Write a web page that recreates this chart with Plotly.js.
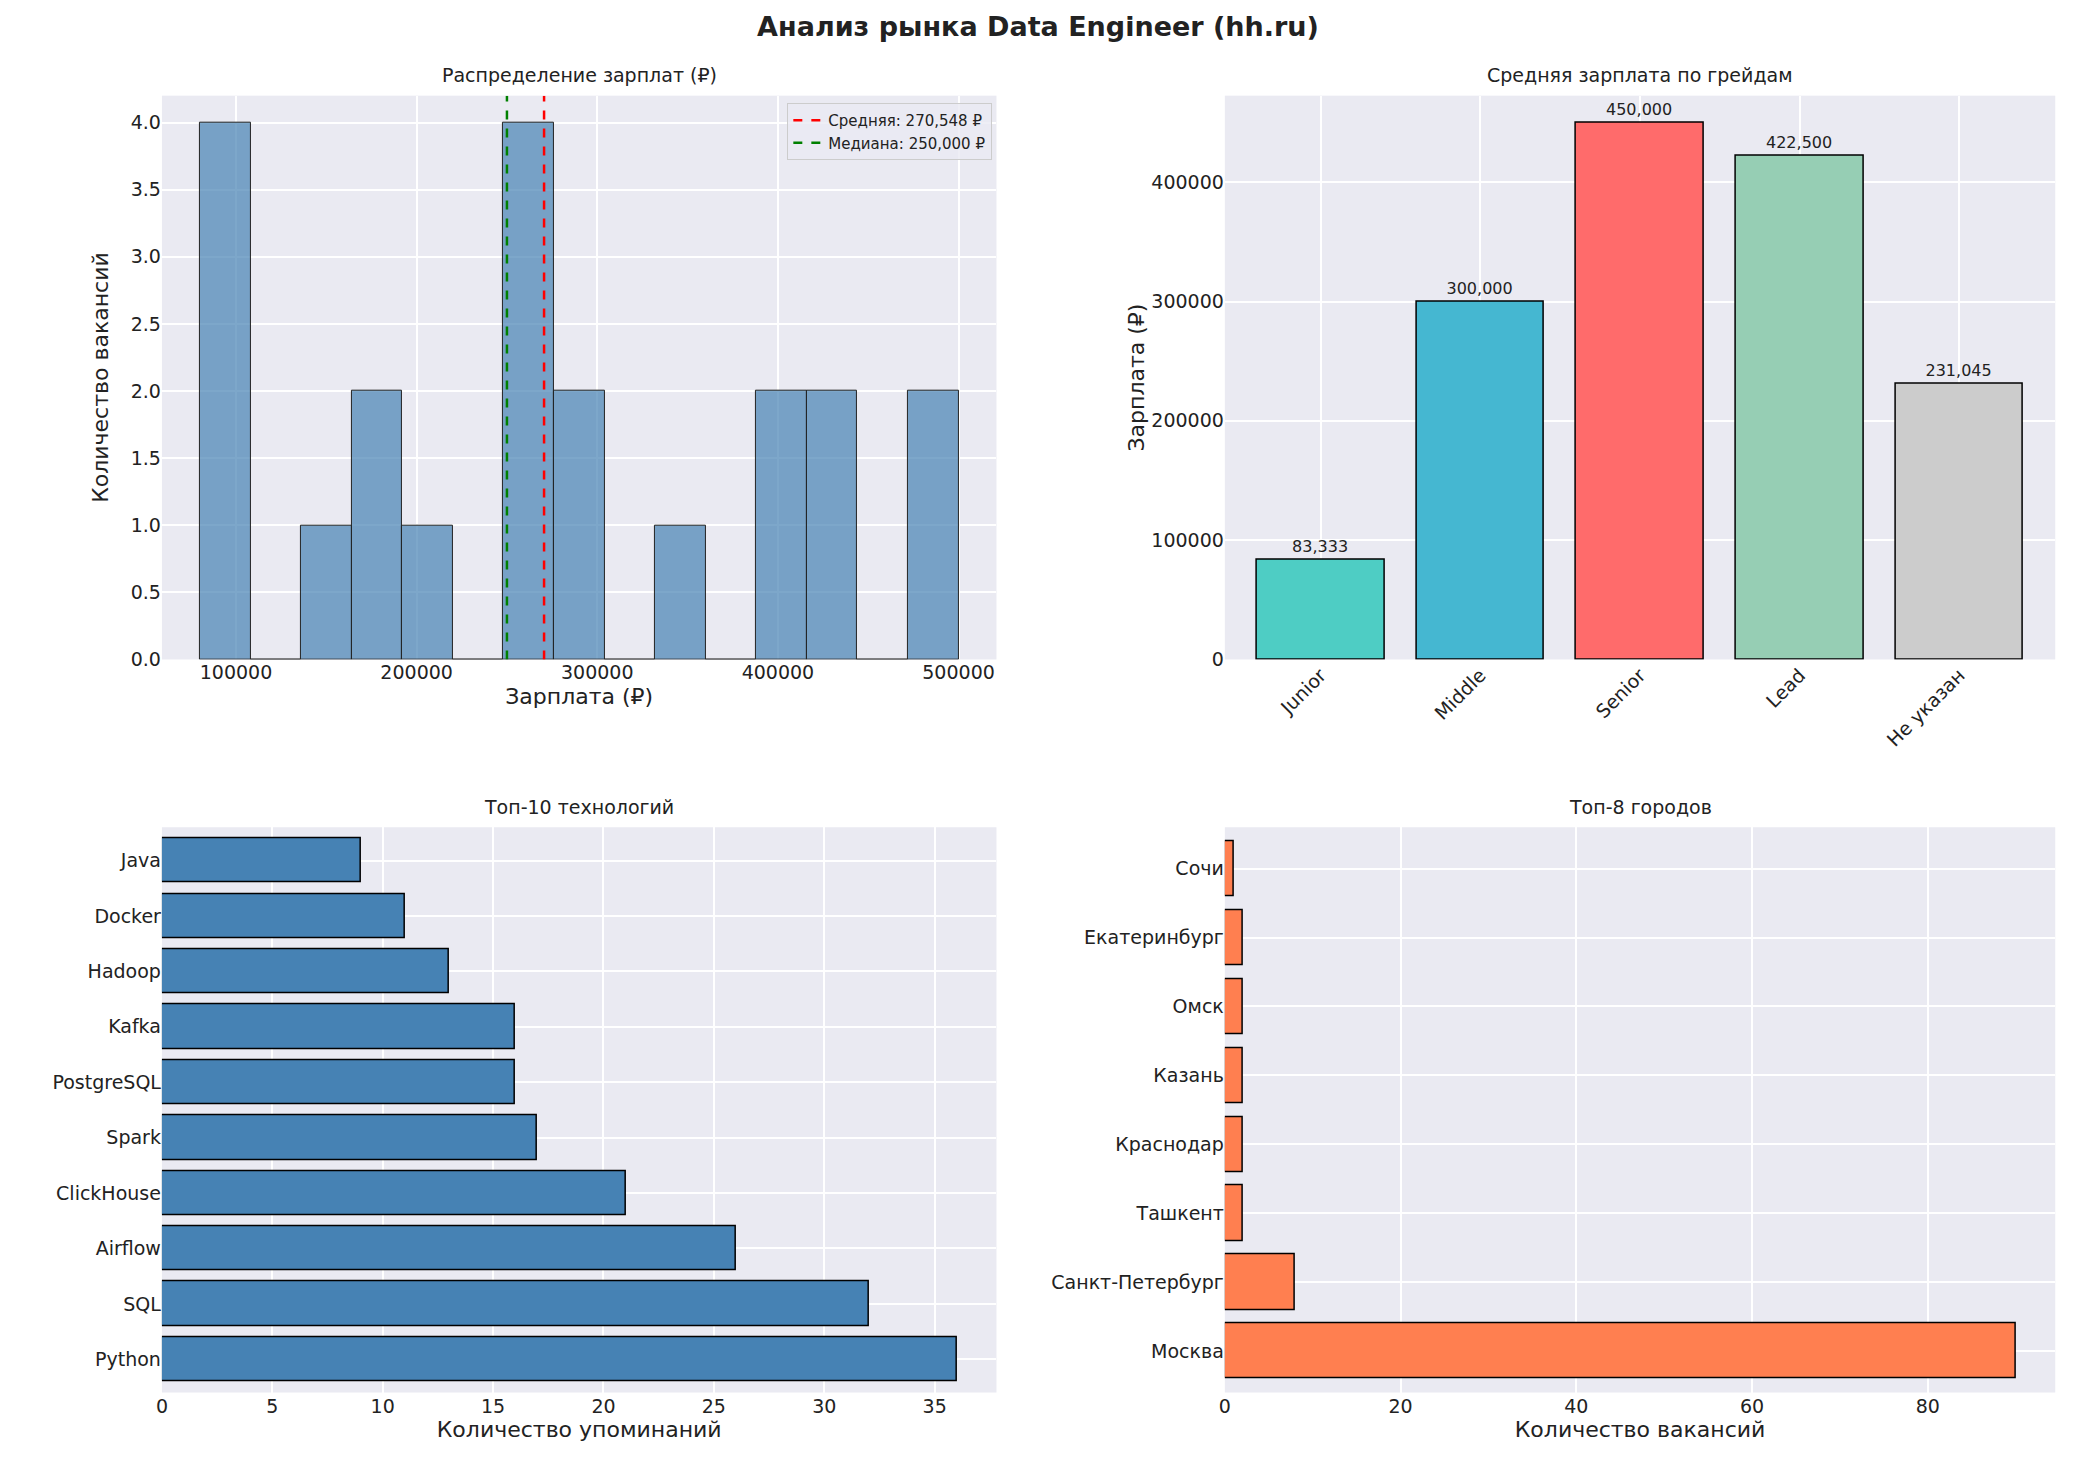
<!DOCTYPE html>
<html><head><meta charset="utf-8">
<script src="https://cdn.plot.ly/plotly-3.0.1.min.js"></script>
<style>body{margin:0;background:#fff}</style>
</head><body>
<div id="myDiv" style="width:2076px;height:1472px"></div>
<script>
const histStart = 80000, histEnd = 500000
const histCounts = [4,0,1,2,1,0,4,2,0,1,0,2,2,0,2]
const salaryMean = 270548, salaryMedian = 250000
const grades = ['Junior','Middle','Senior','Lead','Не указан']
const gradeSalary = [83333,300000,450000,422500,231045]
const gradeColors = ['#4ecdc4','#45b7d1','#ff6b6b','#96ceb4','#cccccc']
const techs = ['Python','SQL','Airflow','ClickHouse','Spark','PostgreSQL','Kafka','Hadoop','Docker','Java']
const techCounts = [36,32,26,21,17,16,16,13,11,9]
const cities = ['Москва','Санкт-Петербург','Ташкент','Краснодар','Казань','Омск','Екатеринбург','Сочи']
const cityCounts = [90,8,2,2,2,2,2,1]

const graphDiv = document.getElementById('myDiv')
const binW = (histEnd-histStart)/histCounts.length
const binCenters = histCounts.map((_,i)=>histStart+binW*(i+0.5))
const font = {family:'DejaVu Sans, Arial', color:'#222'}
const ax = (extra)=>Object.assign({showgrid:true,gridcolor:'#fff',gridwidth:1.5,zeroline:false,showline:false,ticks:'',tickfont:{size:19},title:{font:{size:22}}},extra)
const fmt = v=>v.toLocaleString('en-US')

const data = [
  {type:'bar',x:binCenters,y:histCounts,width:binW,xaxis:'x',yaxis:'y',
   marker:{color:'rgba(70,130,180,0.7)',line:{color:'#222',width:1}},hoverinfo:'none',showlegend:false},
  {type:'scatter',mode:'lines',x:[salaryMean,salaryMean],y:[0,4.2],xaxis:'x',yaxis:'y',
   line:{color:'red',dash:'dash',width:2.5},name:'Средняя: '+fmt(salaryMean)+' ₽'},
  {type:'scatter',mode:'lines',x:[salaryMedian,salaryMedian],y:[0,4.2],xaxis:'x',yaxis:'y',
   line:{color:'green',dash:'dash',width:2.5},name:'Медиана: '+fmt(salaryMedian)+' ₽'},
  {type:'bar',x:grades,y:gradeSalary,xaxis:'x2',yaxis:'y2',width:0.8,
   marker:{color:gradeColors,line:{color:'#000',width:1.5}},text:gradeSalary.map(fmt),
   textposition:'outside',textfont:{size:16},cliponaxis:false,showlegend:false,hoverinfo:'none'},
  {type:'bar',orientation:'h',x:techCounts,y:techs,xaxis:'x3',yaxis:'y3',width:0.8,
   marker:{color:'steelblue',line:{color:'#000',width:1.5}},showlegend:false,hoverinfo:'none'},
  {type:'bar',orientation:'h',x:cityCounts,y:cities,xaxis:'x4',yaxis:'y4',width:0.8,
   marker:{color:'coral',line:{color:'#000',width:1.5}},showlegend:false,hoverinfo:'none'}
]
const layout = {
  width:2076,height:1472,font:font,paper_bgcolor:'#fff',plot_bgcolor:'#eaeaf2',
  margin:{l:0,r:0,t:0,b:0},
  title:{text:'<b>Анализ рынка Data Engineer (hh.ru)</b>',font:{size:27},x:0.5,y:0.982,yanchor:'middle'},
  xaxis:ax({domain:[0.078,0.48],anchor:'y',range:[59000,521000],tickvals:[100000,200000,300000,400000,500000],ticktext:['100000','200000','300000','400000','500000'],title:{text:'Зарплата (₽)',font:{size:22},standoff:6}}),
  yaxis:ax({domain:[0.552,0.935],anchor:'x',range:[0,4.2],dtick:0.5,tickformat:'.1f',title:{text:'Количество вакансий',font:{size:22}}}),
  xaxis2:ax({domain:[0.59,0.99],anchor:'y2',tickangle:-45,range:[-0.6,4.6]}),
  yaxis2:ax({domain:[0.552,0.935],anchor:'x2',range:[0,472500],dtick:100000,tickformat:'d',title:{text:'Зарплата (₽)',font:{size:22}}}),
  xaxis3:ax({domain:[0.078,0.48],anchor:'y3',range:[0,37.8],dtick:5,title:{text:'Количество упоминаний',font:{size:22},standoff:6}}),
  yaxis3:ax({domain:[0.054,0.438],anchor:'x3',range:[-0.6,9.6]}),
  xaxis4:ax({domain:[0.59,0.99],anchor:'y4',range:[0,94.5],dtick:20,title:{text:'Количество вакансий',font:{size:22},standoff:6}}),
  yaxis4:ax({domain:[0.054,0.438],anchor:'x4',range:[-0.6,7.6]}),
  bargap:0,
  legend:{x:0.478,xanchor:'right',y:0.93,yanchor:'top',bgcolor:'rgba(234,234,242,0.8)',bordercolor:'#ccc',borderwidth:1,font:{size:15}},
  annotations:[
    {text:'Распределение зарплат (₽)',x:0.279,y:0.94,xref:'paper',yref:'paper',xanchor:'center',yanchor:'bottom',showarrow:false,font:{size:19}},
    {text:'Средняя зарплата по грейдам',x:0.79,y:0.94,xref:'paper',yref:'paper',xanchor:'center',yanchor:'bottom',showarrow:false,font:{size:19}},
    {text:'Топ-10 технологий',x:0.279,y:0.443,xref:'paper',yref:'paper',xanchor:'center',yanchor:'bottom',showarrow:false,font:{size:19}},
    {text:'Топ-8 городов',x:0.79,y:0.443,xref:'paper',yref:'paper',xanchor:'center',yanchor:'bottom',showarrow:false,font:{size:19}}
  ]
}
Plotly.newPlot(graphDiv,data,layout,{displayModeBar:false})
</script>
</body></html>
